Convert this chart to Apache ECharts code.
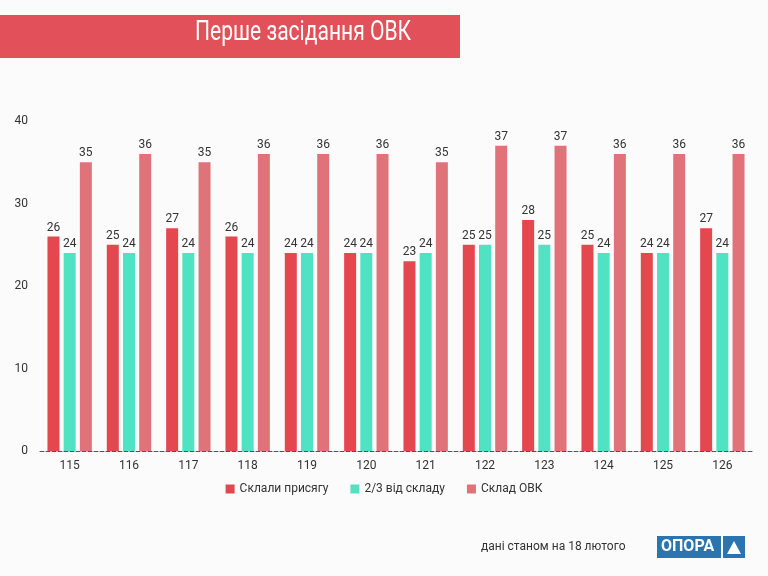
<!DOCTYPE html>
<html>
<head>
	<meta charset="utf-8">
</head>
<body style="margin:0;background:#fbfbfb;">
	<div id="main" style="width:768px;height:576px;"></div>
	<script src="https://cdn.jsdelivr.net/npm/echarts@6/dist/echarts.min.js"></script>
	<script>
		var categories = ['115', '116', '117', '118', '119', '120', '121', '122', '123', '124', '125', '126'];
		var sworn = [26, 25, 27, 26, 24, 24, 23, 25, 28, 25, 24, 27];
		var twoThirds = [24, 24, 24, 24, 24, 24, 24, 25, 25, 24, 24, 24];
		var members = [35, 36, 35, 36, 36, 36, 35, 37, 37, 36, 36, 36];

		var myChart = echarts.init(document.getElementById('main'));

		function barSeries(name, data, color) {
			return {
				name: name,
				type: 'bar',
				data: data,
				barWidth: 12,
				barGap: '35%',
				itemStyle: { color: color },
				label: { show: true, position: 'top', color: '#333', fontSize: 12, fontFamily: 'Roboto', distance: 3 }
			};
		}

		var option = {
			backgroundColor: '#fbfbfb',
			textStyle: { fontFamily: 'Roboto' },
			graphic: [
				{ type: 'rect', shape: { x: 0, y: 15, width: 460, height: 43 }, style: { fill: '#e2515a' } },
				{ type: 'text', x: 195, y: 20, scaleX: 0.78, style: { text: 'Перше засідання ОВК', fill: '#fff', fontSize: 27, fontFamily: 'Roboto' } },
				{ type: 'text', left: 481, top: 541, style: { text: 'дані станом на 18 лютого', fill: '#333', fontSize: 12, fontFamily: 'Roboto' } },
				{ type: 'rect', shape: { x: 657, y: 536, width: 64, height: 22 }, style: { fill: '#2a74b0' } },
				{ type: 'text', left: 661, top: 539, style: { text: 'ОПОРА', fill: '#fff', fontSize: 16, fontWeight: 'bold', fontFamily: 'Roboto' } },
				{ type: 'rect', shape: { x: 723, y: 536, width: 22, height: 22 }, style: { fill: '#2a74b0' } },
				{ type: 'polygon', shape: { points: [[727, 554], [741, 554], [734, 541]] }, style: { fill: '#fff' } }
			],
			legend: {
				bottom: 76,
				left: 'center',
				itemWidth: 9,
				itemHeight: 9,
				itemGap: 22,
				icon: 'rect',
				textStyle: { color: '#333', fontSize: 12 }
			},
			grid: { left: 40, right: 16, top: 121, bottom: 125 },
			xAxis: {
				type: 'category',
				data: categories,
				axisTick: { show: false },
				axisLine: { lineStyle: { color: '#555', type: 'dashed' } },
				axisLabel: { color: '#333', fontSize: 12, margin: 9 }
			},
			yAxis: {
				type: 'value',
				min: 0,
				max: 40,
				interval: 10,
				splitLine: { show: false },
				axisLabel: { color: '#333', fontSize: 12, margin: 12 }
			},
			series: [
				barSeries('Склали присягу', sworn, '#e5474f'),
				barSeries('2/3 від складу', twoThirds, '#4fe3c3'),
				barSeries('Склад ОВК', members, '#e0737a')
			]
		};
		myChart.setOption(option);
	</script>
</body>
</html>
